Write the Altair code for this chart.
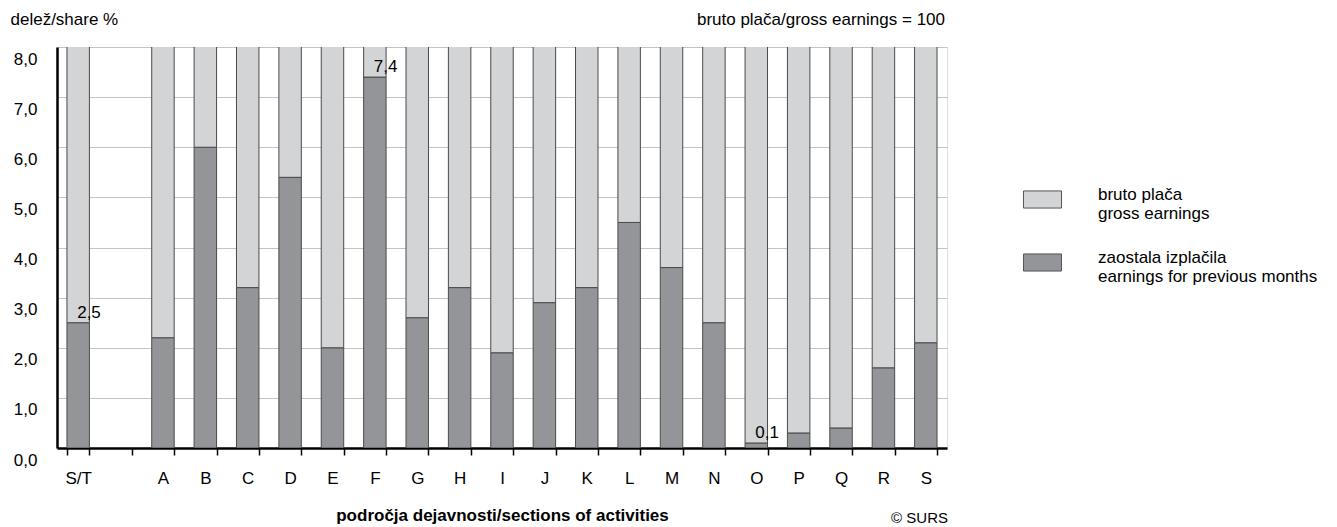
import altair as alt
import pandas as pd

# ---- data ----
sections = ["S/T", "A", "B", "C", "D", "E", "F", "G", "H", "I", "J",
            "K", "L", "M", "N", "O", "P", "Q", "R", "S"]
arrears = [2.5, 2.2, 6.0, 3.2, 5.4, 2.0, 7.4, 2.6, 3.2, 1.9, 2.9,
           3.2, 4.5, 3.6, 2.5, 0.1, 0.3, 0.4, 1.6, 2.1]
gross = 100.0
axis_domain = ["S/T", " ", "A", "B", "C", "D", "E", "F", "G", "H", "I", "J",
               "K", "L", "M", "N", "O", "P", "Q", "R", "S"]
labelled = ["S/T", "F", "O"]
series = ["bruto plača|gross earnings",
          "zaostala izplačila|earnings for previous months"]
colors = ["#d3d4d6", "#949598"]
y_ticks = [0, 1, 2, 3, 4, 5, 6, 7, 8]

FONT = "Liberation Sans"

rows = []
for s, v in zip(sections, arrears):
    rows.append({"sec": s, "series": series[1], "y0": 0.0, "y1": v})
    rows.append({"sec": s, "series": series[0], "y0": v, "y1": v + gross})
df = pd.DataFrame(rows)

lab = pd.DataFrame({"sec": sections, "v": arrears})
lab = lab[lab["sec"].isin(labelled)].copy()
lab["txt"] = lab["v"].map(lambda x: f"{x:.1f}".replace(".", ","))

xscale = alt.Scale(domain=axis_domain, paddingInner=0.47, paddingOuter=0.235)
yscale = alt.Scale(domain=[0, 8], nice=False, zero=True)

x_enc = alt.X("sec:N", scale=xscale, sort=axis_domain,
              axis=alt.Axis(title="področja dejavnosti/sections of activities",
                            titleFontWeight="bold", titleFontSize=17,
                            titleFont=FONT, titleColor="black",
                            titlePadding=21, labelAngle=0, tickBand="extent",
                            tickSize=7, tickColor="black", tickWidth=1.5,
                            domainWidth=2.5, domainColor="black",
                            labelFont=FONT, labelFontSize=17, labelColor="black",
                            labelPadding=15, grid=False))

bars = alt.Chart(df).mark_bar(stroke="#4a4a4a", strokeWidth=1, clip=True).encode(
    x=x_enc,
    y=alt.Y("y0:Q", scale=yscale,
            axis=alt.Axis(values=y_ticks,
                          labelExpr="replace(format(datum.value, '.1f'), '.', ',')",
                          grid=True, gridColor="#c4c4c4", gridWidth=1,
                          ticks=False, tickSize=0, domainWidth=2.5,
                          domainColor="black", labelPadding=20,
                          labelFont=FONT, labelFontSize=17, labelColor="black",
                          labelBaseline="middle", labelOffset=12,
                          title="delež/share %", titleAngle=0,
                          titleAlign="left", titleBaseline="middle",
                          titleX=-47, titleY=-28, titleFontWeight="normal",
                          titleFont=FONT, titleColor="black",
                          titleFontSize=17)),
    y2="y1:Q",
    color=alt.Color("series:N",
                    scale=alt.Scale(domain=series, range=colors),
                    legend=alt.Legend(orient="none", legendX=966, legendY=133,
                                      title=None, padding=0,
                                      symbolType="M-1,-0.45H1V0.45H-1Z",
                                      symbolSize=1444, symbolStrokeColor="#555555",
                                      symbolStrokeWidth=1, symbolOpacity=1,
                                      labelExpr="split(datum.label, '|')",
                                      labelBaseline="alphabetic",
                                      labelFontSize=17, labelFont=FONT,
                                      labelColor="black", labelOffset=36,
                                      rowPadding=21, labelLimit=400)),
    order=alt.Order("y0:Q"),
)

texts = alt.Chart(lab).mark_text(align="left", baseline="alphabetic", dx=-1, dy=-5,
                                 fontSize=17, font=FONT, color="black").encode(
    x=alt.X("sec:N", scale=xscale, sort=axis_domain),
    y=alt.Y("v:Q", scale=yscale),
    text="txt:N",
)

note_top = alt.Chart(pd.DataFrame({"t": ["bruto plača/gross earnings = 100"]})).mark_text(
    align="right", baseline="middle", fontSize=17, font=FONT, color="black").encode(
    x=alt.value(888), y=alt.value(-27), text="t:N")

note_bottom = alt.Chart(pd.DataFrame({"t": ["© SURS"]})).mark_text(
    align="right", baseline="middle", fontSize=15, font=FONT, color="black").encode(
    x=alt.value(891), y=alt.value(471), text="t:N")

chart = alt.layer(bars, texts, note_top, note_bottom).properties(
    width=890, height=401,
    padding={"left": 2, "top": 2, "right": 5, "bottom": 5},
).configure_view(stroke="black", strokeWidth=2).configure(background="white")

chart.save("out.html", embed_options={"renderer": "svg", "actions": False})
